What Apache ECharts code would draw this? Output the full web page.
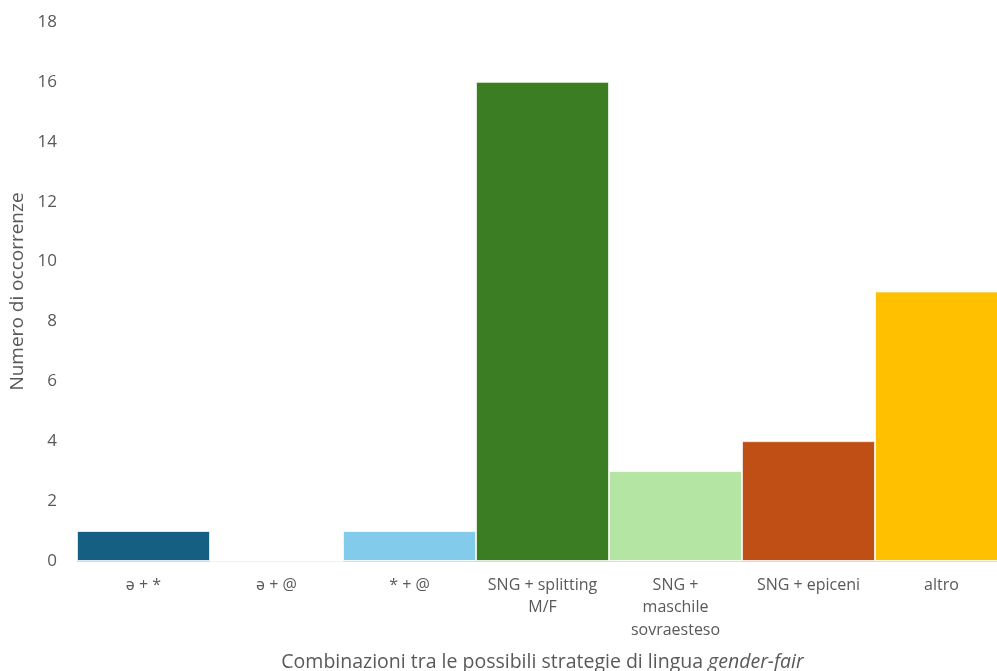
<!DOCTYPE html>
<html>
<head>
<meta charset="utf-8">
<script src="https://cdn.jsdelivr.net/npm/echarts@6/dist/echarts.min.js"></script>
<style>
html,body{margin:0;padding:0;background:#fff;}
#chart{width:997px;height:671px;}
</style>
</head>
<body>
<div id="chart"></div>
<script>
var categories = ["ə + *", "ə + @", "* + @", "SNG + splitting\nM/F", "SNG +\nmaschile\nsovraesteso", "SNG + epiceni", "altro"];
var values = [1, 0, 1, 16, 3, 4, 9];
var barColors = ["#156082", "#E97132", "#83CBEB", "#3B7D23", "#B4E5A2", "#C04F15", "#FFC000"];
var yTicks = {min: 0, max: 18, interval: 2};
var yTitle = "Numero di occorrenze";

var chart = echarts.init(document.getElementById('chart'));
var font = "'Open Sans', 'Liberation Sans', sans-serif";
chart.setOption({
  animation: false,
  grid: {left: 77, top: 22, width: 931, bottom: 110, containLabel: false, outerBoundsMode: 'none'},
  xAxis: {
    type: 'category',
    data: categories,
    axisLine: {lineStyle: {color: '#D9D9D9', width: 1}},
    axisTick: {show: false},
    axisLabel: {color: '#595959', fontSize: 16, fontFamily: font, margin: 13, lineHeight: 22.5, interval: 0},
    name: '{a|Combinazioni tra le possibili strategie di lingua }{b|gender-fair}',
    nameLocation: 'middle',
    nameGap: 91,
    nameTextStyle: {
      rich: {
        a: {color: '#595959', fontSize: 19.5, fontFamily: font},
        b: {color: '#595959', fontSize: 19.5, fontFamily: font, fontStyle: 'italic'}
      }
    }
  },
  yAxis: {
    type: 'value',
    min: yTicks.min, max: yTicks.max, interval: yTicks.interval,
    splitLine: {show: false},
    axisLine: {show: false},
    axisTick: {show: false},
    axisLabel: {color: '#595959', fontSize: 17, fontFamily: font, margin: 20},
    name: yTitle,
    nameLocation: 'middle',
    nameGap: 48,
    nameRotate: 90,
    nameTextStyle: {color: '#595959', fontSize: 19, fontFamily: font}
  },
  series: [{
    type: 'bar',
    barCategoryGap: 0,
    barWidth: '100%',
    data: values.map(function (v, i) {
      return {value: v, itemStyle: {color: barColors[i], borderColor: '#ffffff', borderWidth: 0.8}};
    })
  }]
});
</script>
</body>
</html>
